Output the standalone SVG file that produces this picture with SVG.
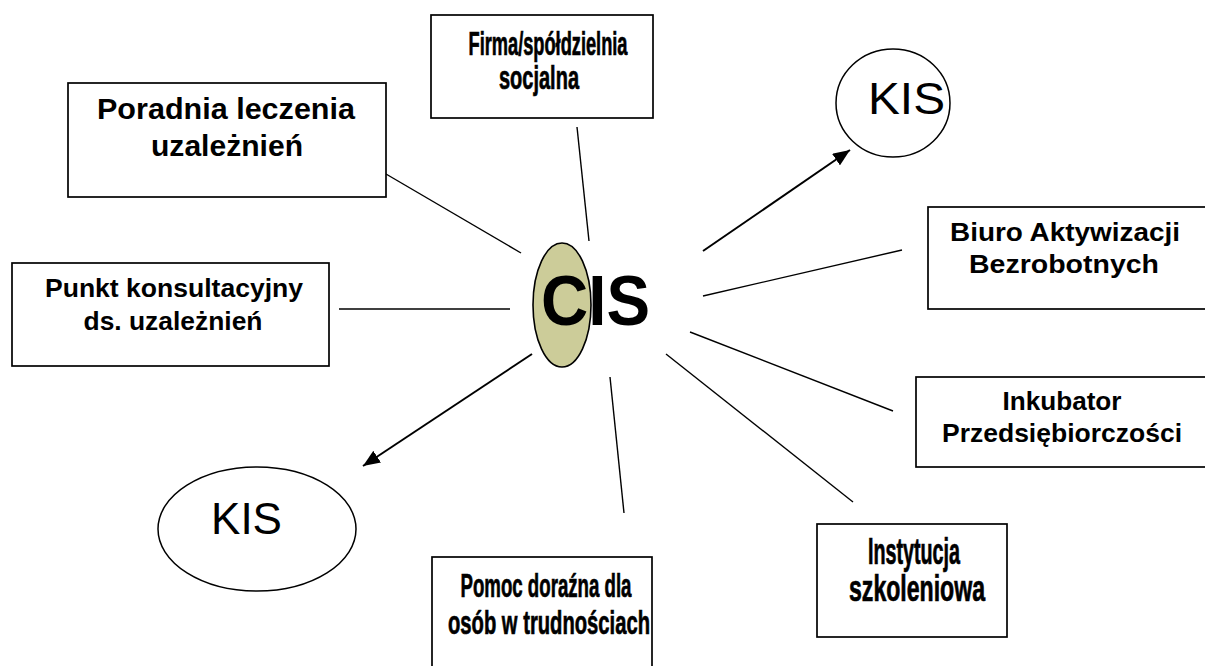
<svg xmlns="http://www.w3.org/2000/svg" width="1205" height="666" viewBox="0 0 1205 666">
<style>
.box{fill:#fff;stroke:#000;stroke-width:1.7}
.lbl{font-family:"Liberation Sans",Arial,sans-serif;font-weight:bold;fill:#000;text-anchor:middle}
.nar{stroke:#000;stroke-width:0.7}
.kis{font-family:"Liberation Sans",Arial,sans-serif;font-size:44px;fill:#000}
.ell{fill:#fff;stroke:#000;stroke-width:1.5}
.ln{stroke:#000;stroke-width:1.4;fill:none}
.arr{stroke:#000;stroke-width:2;fill:none;marker-end:url(#ah)}
</style>
<defs>
<marker id="ah" markerUnits="userSpaceOnUse" markerWidth="18" markerHeight="14" refX="17" refY="7" orient="auto">
<path d="M0,0 L17,7 L0,14 z" fill="#000"/>
</marker>
</defs>
<rect width="1205" height="666" fill="#fff"/>
<g id="connectors">
<line class="ln" x1="386" y1="174" x2="521" y2="253"/>
<line class="ln" x1="577" y1="127" x2="589" y2="241"/>
<line class="arr" x1="703" y1="251" x2="850" y2="150"/>
<line class="ln" x1="703" y1="296" x2="902" y2="250"/>
<line class="ln" x1="339" y1="309" x2="510" y2="309"/>
<line class="arr" x1="532" y1="354" x2="363" y2="466"/>
<line class="ln" x1="610" y1="377" x2="624" y2="513"/>
<line class="ln" x1="666" y1="354" x2="853" y2="502"/>
<line class="ln" x1="690" y1="332" x2="893" y2="411"/>
</g>
<g id="cis">
<ellipse cx="562" cy="305" rx="29" ry="62" fill="#cccc99" stroke="#000" stroke-width="1.6"/>
<text x="541" y="325" font-family="'Liberation Sans',Arial,sans-serif" font-weight="bold" font-size="70" textLength="109" lengthAdjust="spacingAndGlyphs">CIS</text>
</g>
<g id="poradnia">
<rect class="box" x="68" y="83" width="318" height="114"/>
<text class="lbl" x="226" y="119" font-size="29" textLength="258" lengthAdjust="spacingAndGlyphs">Poradnia leczenia</text>
<text class="lbl" x="227" y="156" font-size="29" textLength="152" lengthAdjust="spacingAndGlyphs">uzależnień</text>
</g>
<g id="firma">
<rect class="box" x="431" y="15" width="222" height="103"/>
<text class="lbl nar" x="548" y="55" font-size="33" textLength="159" lengthAdjust="spacingAndGlyphs">Firma/spółdzielnia</text>
<text class="lbl nar" x="539" y="89" font-size="33" textLength="80" lengthAdjust="spacingAndGlyphs">socjalna</text>
</g>
<g id="kis-top">
<ellipse class="ell" cx="893" cy="103" rx="57" ry="54"/>
<text class="kis" x="868" y="114" font-size="46" textLength="77" lengthAdjust="spacingAndGlyphs">KIS</text>
</g>
<g id="biuro">
<rect class="box" x="928" y="207" width="290" height="102"/>
<text class="lbl" x="1065" y="241" font-size="25" textLength="230" lengthAdjust="spacingAndGlyphs">Biuro Aktywizacji</text>
<text class="lbl" x="1064" y="273" font-size="25" textLength="190" lengthAdjust="spacingAndGlyphs">Bezrobotnych</text>
</g>
<g id="punkt">
<rect class="box" x="12" y="263" width="317" height="103"/>
<text class="lbl" x="174" y="297" font-size="25" textLength="258" lengthAdjust="spacingAndGlyphs">Punkt konsultacyjny</text>
<text class="lbl" x="173" y="330" font-size="25" textLength="179" lengthAdjust="spacingAndGlyphs">ds. uzależnień</text>
</g>
<g id="inkubator">
<rect class="box" x="916" y="377" width="300" height="90"/>
<text class="lbl" x="1062" y="410" font-size="25" textLength="119" lengthAdjust="spacingAndGlyphs">Inkubator</text>
<text class="lbl" x="1062" y="442" font-size="25" textLength="240" lengthAdjust="spacingAndGlyphs">Przedsiębiorczości</text>
</g>
<g id="instytucja">
<rect class="box" x="817" y="524" width="190" height="113"/>
<text class="lbl nar" x="914" y="564" font-size="36" textLength="92" lengthAdjust="spacingAndGlyphs">Instytucja</text>
<text class="lbl nar" x="917" y="601" font-size="36" textLength="136" lengthAdjust="spacingAndGlyphs">szkoleniowa</text>
</g>
<g id="pomoc">
<rect class="box" x="432" y="557" width="220" height="120"/>
<text class="lbl nar" x="546" y="597" font-size="34" textLength="171" lengthAdjust="spacingAndGlyphs">Pomoc doraźna dla</text>
<text class="lbl nar" x="549" y="634" font-size="34" textLength="202" lengthAdjust="spacingAndGlyphs">osób w trudnościach</text>
</g>
<g id="kis-bottom">
<ellipse class="ell" cx="257" cy="529" rx="99" ry="62"/>
<text class="kis" x="211" y="534" textLength="71" lengthAdjust="spacingAndGlyphs">KIS</text>
</g>
</svg>
